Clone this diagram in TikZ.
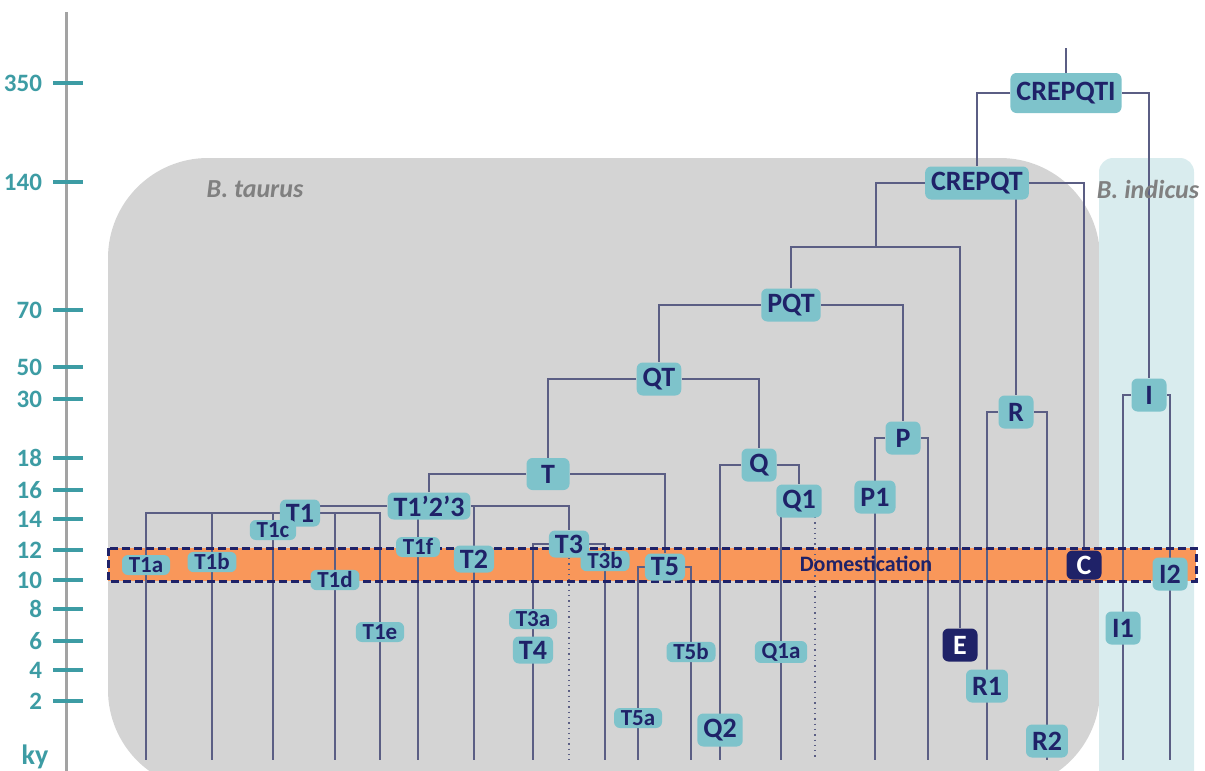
\documentclass[tikz,border=0pt]{standalone}
\usepackage{fontspec}
\setmainfont{Carlito}
\definecolor{hapfill}{HTML}{7EC3CB}
\definecolor{hapnavy}{HTML}{1F2268}
\definecolor{axisteal}{HTML}{3D9CA4}
\definecolor{axisgray}{HTML}{A3A3A3}
\definecolor{linkgray}{HTML}{5B5E84}
\definecolor{taurusgray}{HTML}{D4D4D4}
\definecolor{indicusblue}{HTML}{D9ECEE}
\definecolor{domorange}{HTML}{F9975A}
\pgfdeclarelayer{bg}
\pgfdeclarelayer{edges}
\pgfsetlayers{bg,edges,main}
\tikzset{
  hap/.style={fill=hapfill,text=hapnavy,font=\bfseries\fontsize{14}{14}\selectfont,
    rounded corners=3pt,inner xsep=3pt,inner ysep=1pt,minimum width=17.5pt,minimum height=16.5pt},
  thap/.style={hap,minimum height=13.5pt},
  subhap/.style={hap,font=\bfseries\fontsize{11.5}{11.5}\selectfont,inner xsep=3.4pt,minimum height=10pt},
  darkhap/.style={hap,fill=hapnavy,text=white},
  link/.style={draw=linkgray,line width=0.65pt},
  ticklab/.style={anchor=east,text=axisteal,font=\bfseries\fontsize{12.5}{12.5}\selectfont},
  species/.style={text=gray,font=\bfseries\itshape\fontsize{13}{13}\selectfont}
}
\begin{document}
\begin{tikzpicture}[x=0.5pt,y=-0.5pt]
  \useasboundingbox (0,0) rectangle (1205,771);
  \begin{pgfonlayer}{bg}
    \begin{scope}
      \clip (0,0) rectangle (1205,771);
      \fill[taurusgray,rounded corners=50pt] (108,158) rectangle (1100,790);
      \fill[indicusblue,rounded corners=7pt] (1099,158) rectangle (1194,800);
      \fill[domorange] (108,548) rectangle (1196,581);
    \end{scope}
    \draw[axisgray,line width=1.5pt] (66,12) -- (66,771);
    \foreach \y/\lab in {83/350,182/140,310/70,367/50,399/30,458/18,490/16,519/14,550/12,580/10,609/8,641/6,670/4,701/2}
      {\draw[axisteal,line width=1.6pt] (53,\y) -- (83,\y);
       \node[ticklab] (tick\lab) at (49,\y) {\lab};}
  \end{pgfonlayer}
  \node[ticklab,anchor=center,font=\bfseries\fontsize{14}{14}\selectfont] (ky) at (35,757) {ky};
  \node[species] (taurus) at (255,189) {B. taurus};
  \node[species] (indicus) at (1148,189) {B. indicus};

  \coordinate (roottop) at (1066,48);
  \coordinate (bot) at (0,760);
  \node[hap,minimum height=20pt] (crepqti) at (1066,93) {CREPQTI};
  \node[hap] (crepqt) at (977,183) {CREPQT};
  \coordinate (epqt) at (876,247);
  \node[hap] (pqt) at (791,305) {PQT};
  \node[hap] (qt) at (659,379) {QT};
  \node[hap,minimum width=21.5pt,minimum height=16pt] (tt) at (548,474) {T};
  \node[thap] (t123) at (429,506) {T1’2’3};
  \node[thap] (t1) at (300,513) {T1};
  \node[subhap] (t1a) at (146,565) {T1a};
  \node[subhap] (t1b) at (212,562) {T1b};
  \node[subhap] (t1c) at (273,530) {T1c};
  \node[subhap] (t1d) at (335,580) {T1d};
  \node[subhap] (t1e) at (380,632) {T1e};
  \node[subhap] (t1f) at (418,547) {T1f};
  \node[thap] (t2) at (474,559) {T2};
  \node[thap] (t3) at (569,544) {T3};
  \node[subhap] (t3a) at (533,619) {T3a};
  \node[subhap] (t3b) at (605,561) {T3b};
  \node[thap] (t4) at (533,650) {T4};
  \node[thap] (t5) at (665,567) {T5};
  \node[subhap] (t5a) at (638,718) {T5a};
  \node[subhap] (t5b) at (691,652) {T5b};
  \node[hap] (q) at (759,465) {Q};
  \node[hap] (q1) at (799,501) {Q1};
  \node[subhap] (q1a) at (781,652) {Q1a};
  \node[hap] (q2) at (720,730) {Q2};
  \coordinate (q1dot) at ([xshift=8pt]q1.center);
  \node[hap] (p) at (903,438) {P};
  \node[hap] (p1) at (875,497) {P1};
  \coordinate (p2) at (928,760);
  \node[darkhap] (e) at (960,645) {E};
  \node[hap] (r) at (1016,412) {R};
  \node[hap] (r1) at (987,686) {R1};
  \node[hap] (r2) at (1047,741) {R2};
  \node[darkhap,minimum height=14.5pt] (c) at (1084,565) {C};
  \node[hap] (i) at (1149,395) {I};
  \node[hap] (i1) at (1123,628) {I1};
  \node[hap] (i2) at (1170,574) {I2};
  \node[text=hapnavy,font=\bfseries\fontsize{11}{11}\selectfont] (dom) at (866,564) {Domestication};

  \begin{pgfonlayer}{edges}
    \draw[link] (crepqti) -- (roottop);
    \draw[link] (crepqti) -| (crepqt);
    \draw[link] (crepqti) -| (i);
    \draw[link] (crepqt) -| (epqt);
    \draw[link] (crepqt) -| (c);
    \draw[link] (crepqt -| r) -- (r);
    \draw[link] (epqt) -| (pqt);
    \draw[link] (epqt) -| (e);
    \draw[link] (pqt) -| (qt);
    \draw[link] (pqt) -| (p);
    \draw[link] (qt) -| (tt);
    \draw[link] (qt) -| (q);
    \draw[link] (tt) -| (t123);
    \draw[link] (tt) -| (t5);
    \draw[link] (t123) -- (t123 -| t1);
    \draw[link] (t123) -| (t3);
    \draw[link] (t123) -| (t2 |- bot);
    \draw[link] (t123 -| t1f) -- (t1f |- bot);
    \foreach \leaf in {t1a,t1b,t1c,t1d,t1e} {\draw[link] (t1) -| (\leaf |- bot);}
    \draw[link] (t3) -| (t3a |- bot);
    \draw[link] (t3) -| (t3b |- bot);
    \draw[link,dotted] (t3) -- (t3 |- bot);
    \draw[link] (t5) -| (t5a |- bot);
    \draw[link] (t5) -| (t5b |- bot);
    \draw[link] (q) -| (q2 |- bot);
    \draw[link] (q) -| (q1);
    \draw[link] (q1 -| q1a) -- (q1a |- bot);
    \draw[link,dotted] (q1dot) -- (q1dot |- bot);
    \draw[link] (p) -| (p1 |- bot);
    \draw[link] (p) -| (p2);
    \draw[link] (r) -| (r1 |- bot);
    \draw[link] (r) -| (r2 |- bot);
    \draw[link] (i) -| (i1 |- bot);
    \draw[link] (i) -| (i2 |- bot);
    \draw[hapnavy,line width=1.5pt,dash pattern=on 4pt off 2pt] (108,548) rectangle (1196,581);
  \end{pgfonlayer}
\end{tikzpicture}
\end{document}
